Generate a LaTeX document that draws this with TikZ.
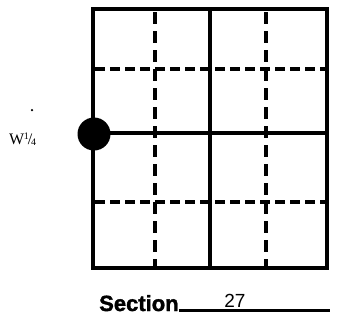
\documentclass[tikz,border=0pt]{standalone}
\usepackage{fontspec}
\setmainfont{Liberation Serif}
\newfontfamily\secfont{Liberation Sans}
\newfontfamily\secbold[BoldFeatures={FakeBold=1.6}]{Liberation Sans}
\begin{document}
\begin{tikzpicture}[x=1pt,y=-1pt,
  solidline/.style={line width=3.4pt},
  dashline/.style={line width=3.4pt, dash pattern=on 10pt off 5pt},
  vdashline/.style={line width=3.4pt, dash pattern=on 12pt off 7pt}]
\useasboundingbox (0,0) rectangle (340,322);
\coordinate (tl) at (93,9);
\coordinate (br) at (327,268);
\coordinate (mt) at (210,9);
\coordinate (mb) at (210,268);
\coordinate (ml) at (93,133);
\coordinate (mr) at (327,133);
\coordinate (h1l) at (95,69);
\coordinate (h1r) at (325,69);
\coordinate (h2l) at (95,202);
\coordinate (h2r) at (325,202);
\coordinate (v1t) at (155,12);
\coordinate (v1b) at (155,266);
\coordinate (v2t) at (266,12);
\coordinate (v2b) at (266,266);
\draw[dashline] (h1l) -- (h1r);
\draw[dashline] (h2l) -- (h2r);
\draw[vdashline] (v1t) -- (v1b);
\draw[vdashline] (v2t) -- (v2b);
\draw[solidline] (tl) rectangle (br);
\draw[solidline] (mt) -- (mb);
\draw[solidline] (ml) -- (mr);
\node[circle, fill=black, minimum size=33pt, inner sep=0pt] (dot) at (94,134) {};
\node[circle, fill=black, minimum size=2.5pt, inner sep=0pt] (speck) at (32,110) {};
\node[anchor=base west, inner sep=0pt, font=\fontsize{16}{16}\selectfont] (lbl) at (9,144) {W\kern-0.5pt\raisebox{0.55ex}{\fontsize{10}{10}\selectfont 1}\kern-1pt/\kern-1.2pt\raisebox{-0.15ex}{\fontsize{10}{10}\selectfont 4}};
\node[anchor=base west, inner sep=0pt, font=\secbold\bfseries\fontsize{22}{22}\selectfont] (sec) at (99,311) {Section};
\draw[line width=3.4pt] (sec.base east) ++(0,-0.5) -- (330,310.5) coordinate (ulend);
\node[anchor=base, inner sep=0pt, font=\secfont\fontsize{19}{19}\selectfont] (num) at (235,307) {27};
\end{tikzpicture}
\end{document}
